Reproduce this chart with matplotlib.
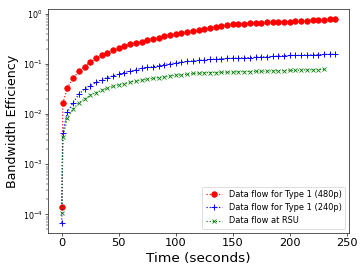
import matplotlib
matplotlib.use('Agg')
import matplotlib.pyplot as plt

# time stamps (seconds)
t_480 = [0, 1] + list(range(5, 245, 5))
t_240 = [0, 1] + list(range(5, 245, 5))
t_rsu = [0, 1] + list(range(5, 235, 5))

eff_480 = [1.4e-4, 0.0166, 0.034, 0.052, 0.072, 0.089, 0.11, 0.13, 0.15, 0.17,
           0.19, 0.21, 0.23, 0.25, 0.27, 0.28, 0.31, 0.32, 0.34, 0.36,
           0.38, 0.40, 0.42, 0.44, 0.46, 0.48, 0.50, 0.53, 0.55, 0.58,
           0.60, 0.63, 0.64, 0.645, 0.65, 0.66, 0.67, 0.68, 0.69, 0.695,
           0.70, 0.71, 0.72, 0.73, 0.74, 0.75, 0.76, 0.77, 0.78, 0.79]
eff_240 = [6.8e-5, 0.0043, 0.011, 0.017, 0.025, 0.032, 0.037, 0.043, 0.049, 0.054,
           0.058, 0.063, 0.068, 0.072, 0.077, 0.082, 0.086, 0.089, 0.093, 0.098,
           0.102, 0.106, 0.110, 0.113, 0.116, 0.119, 0.122, 0.124, 0.126, 0.128,
           0.130, 0.131, 0.133, 0.134, 0.135, 0.137, 0.139, 0.141, 0.143, 0.145,
           0.147, 0.149, 0.150, 0.151, 0.153, 0.154, 0.155, 0.156, 0.157, 0.158]
eff_rsu = [1.05e-4, 0.0035, 0.0085, 0.0126, 0.017, 0.020, 0.024, 0.027, 0.030, 0.033,
           0.036, 0.039, 0.041, 0.044, 0.046, 0.048, 0.050, 0.052, 0.054, 0.056,
           0.058, 0.060, 0.061, 0.063, 0.065, 0.066, 0.067, 0.068, 0.068, 0.069,
           0.069, 0.070, 0.070, 0.071, 0.071, 0.072, 0.072, 0.073, 0.073, 0.074,
           0.074, 0.075, 0.075, 0.076, 0.077, 0.077, 0.078, 0.079]

fig = plt.figure(figsize=(6.4, 4.8), dpi=56.875)
ax = fig.add_axes([0.132, 0.147, 0.827, 0.82])
ax.plot(t_480, eff_480, 'r:', marker='o', markersize=7, label='Data flow for Type 1 (480p)')
ax.plot(t_240, eff_240, 'b:', marker='+', markersize=7, markeredgewidth=1.2,
        label='Data flow for Type 1 (240p)')
ax.plot(t_rsu, eff_rsu, 'g:', marker='x', markersize=6, label='Data flow at RSU')
ax.set_yscale('log')
ax.set_xlabel('Time (seconds)', fontsize='xx-large')
ax.set_ylabel('Bandwidth Efficiency', fontsize=16)
ax.tick_params(axis='x', labelsize='x-large')
ax.set_xticks([0, 50, 100, 150, 200, 250])
ax.legend(loc='lower right', fontsize=10.5)
fig.savefig('out.png')
